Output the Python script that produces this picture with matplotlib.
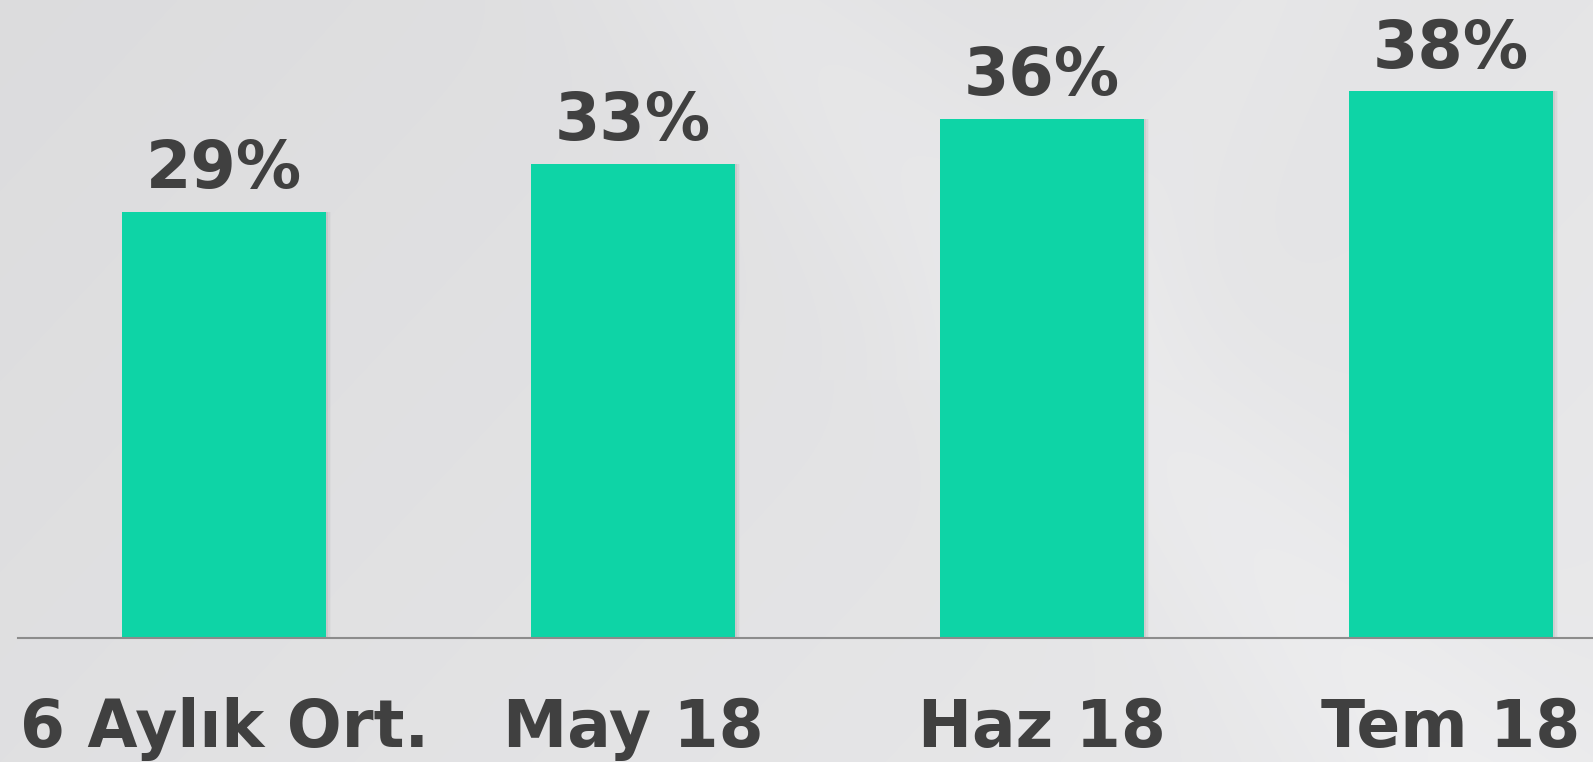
import numpy as np
import matplotlib.pyplot as plt
from matplotlib.transforms import blended_transform_factory

categories = ['6 Aylık Ort.', 'May 18', 'Haz 18', 'Tem 18']
values = [29.4, 32.7, 35.8, 37.7]
value_labels = ['29%', '33%', '36%', '38%']

bar_color = '#0ed4a6'
text_color = '#404040'

fig = plt.figure(figsize=(15.93, 7.62), dpi=100)

# background: light grey with soft diagonal highlights
bg = fig.add_axes([0, 0, 1, 1], zorder=-10)
yy, xx = np.mgrid[0:762, 0:1593]
img = 220 + 9 * (xx / 1593) + 4 * (yy / 762)
band = np.exp(-((xx - 0.9 * yy - 760) / 160.0) ** 2)
img = img + 5 * band
band2 = np.exp(-((xx + 0.6 * yy - 1250) / 120.0) ** 2) * (yy < 380)
img = img + 3 * band2
img = np.clip(img, 0, 255) / 255.0
bg.imshow(np.dstack([img, img, img + 0.006]).clip(0, 1), aspect='auto',
          extent=[0, 1, 0, 1], origin='upper')
bg.axis('off')

ax = fig.add_axes([18 / 1593, 124 / 762, 1 - 18 / 1593, 638 / 762])
ax.patch.set_alpha(0)
x = np.arange(len(categories))

# soft shadow behind bars
for k, a in enumerate([0.05, 0.035, 0.02]):
    ax.bar(x + 0.004 * (k + 1), values, width=0.5, color='#000000',
           alpha=a, zorder=1)
ax.bar(x, values, width=0.5, color=bar_color, zorder=2)

ax.set_xlim(-0.504, 3.347)
ax.set_ylim(0, 44)
for s in ['top', 'right', 'left']:
    ax.spines[s].set_visible(False)
ax.spines['bottom'].set_color('#8c8c8c')
ax.spines['bottom'].set_linewidth(1.5)
ax.spines['bottom'].set_zorder(3)
ax.set_yticks([])
ax.set_xticks([])

for xi, v, lab in zip(x, values, value_labels):
    ax.annotate(lab, (xi, v), xytext=(0, 17), textcoords='offset points',
                ha='center', va='baseline', fontsize=47, fontweight='bold',
                color=text_color)

trans = blended_transform_factory(ax.transData, ax.transAxes)
for xi, cat in zip(x, categories):
    ax.annotate(cat, (xi, 0), xycoords=trans, xytext=(0, -78.5),
                textcoords='offset points', ha='center', va='baseline',
                fontsize=46.5, fontweight='bold', color=text_color,
                annotation_clip=False)

fig.savefig('out.png', dpi=100)
